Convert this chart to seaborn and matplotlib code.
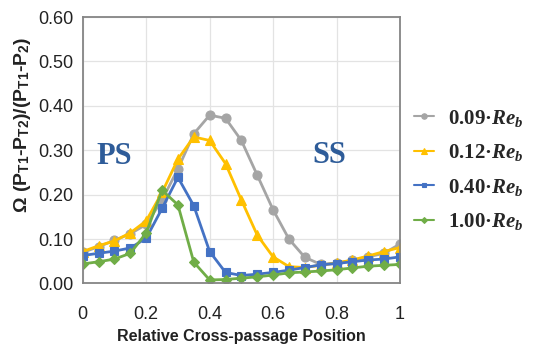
import matplotlib
matplotlib.use("Agg")
import matplotlib.pyplot as plt
import seaborn as sns
import pandas as pd

# Relative cross-passage position (pressure side -> suction side)
position = [0.00, 0.05, 0.10, 0.15, 0.20, 0.25, 0.30, 0.35, 0.40, 0.45, 0.50,
            0.55, 0.60, 0.65, 0.70, 0.75, 0.80, 0.85, 0.90, 0.95, 1.00]

re_009 = [0.070, 0.083, 0.097, 0.112, 0.133, 0.188, 0.258, 0.337, 0.379, 0.372, 0.322,
          0.244, 0.166, 0.100, 0.059, 0.043, 0.046, 0.052, 0.060, 0.068, 0.089]
re_012 = [0.072, 0.085, 0.096, 0.114, 0.141, 0.205, 0.280, 0.330, 0.322, 0.270, 0.188,
          0.109, 0.060, 0.038, 0.036, 0.041, 0.046, 0.053, 0.062, 0.072, 0.081]
re_040 = [0.063, 0.068, 0.073, 0.080, 0.102, 0.169, 0.239, 0.175, 0.072, 0.025, 0.018,
          0.021, 0.025, 0.030, 0.036, 0.042, 0.045, 0.049, 0.053, 0.055, 0.060]
re_100 = [0.044, 0.049, 0.055, 0.068, 0.114, 0.210, 0.177, 0.048, 0.008, 0.009, 0.012,
          0.015, 0.019, 0.024, 0.026, 0.028, 0.031, 0.035, 0.039, 0.041, 0.043]

series_labels = ["0.09·$Re_b$", "0.12·$Re_b$", "0.40·$Re_b$", "1.00·$Re_b$"]
series_values = [re_009, re_012, re_040, re_100]
colors = ["#A5A5A5", "#FFC000", "#4472C4", "#70AD47"]
markers = ["o", "^", "s", "D"]
marker_sizes = [6.5, 6.5, 6, 5]

xticks = [0, 0.2, 0.4, 0.6, 0.8, 1]
xtick_labels = ["0", "0.2", "0.4", "0.6", "0.8", "1"]
yticks = [0.0, 0.1, 0.2, 0.3, 0.4, 0.5, 0.6]
ytick_labels = ["0.00", "0.10", "0.20", "0.30", "0.40", "0.50", "0.60"]

sns.set_theme(style="white")
plt.rcParams["font.family"] = ["Liberation Sans", "DejaVu Sans"]
plt.rcParams["mathtext.fontset"] = "custom"
plt.rcParams["mathtext.it"] = "Liberation Serif:bold:italic"
plt.rcParams["mathtext.rm"] = "Liberation Serif:bold"
plt.rcParams["mathtext.bf"] = "Liberation Serif:bold"
plt.rcParams["mathtext.sf"] = "Liberation Sans:bold"

frames = []
for label, vals in zip(series_labels, series_values):
    frames.append(pd.DataFrame({"pos": position, "omega": vals, "case": label}))
df = pd.concat(frames, ignore_index=True)

fig = plt.figure(figsize=(5.34, 3.47), dpi=100)
ax = fig.add_axes([0.155, 0.183, 0.594, 0.768])

for label, color, mk, ms in zip(series_labels, colors, markers, marker_sizes):
    sub = df[df["case"] == label]
    sns.lineplot(data=sub, x="pos", y="omega", ax=ax, color=color, marker=mk,
                 markersize=ms, markeredgecolor=color, markeredgewidth=0.8,
                 linewidth=2, label=label, sort=False)

ax.set_xlim(0, 1)
ax.set_ylim(0, 0.6)
ax.set_xticks(xticks)
ax.set_xticklabels(xtick_labels)
ax.set_yticks(yticks)
ax.set_yticklabels(ytick_labels)
ax.tick_params(axis="both", length=0, labelsize=13, colors="#222222")
ax.tick_params(axis="x", pad=16)
ax.tick_params(axis="y", pad=7)
ax.grid(True, color="#E3E3E3", linewidth=0.9)
for side in ax.spines.values():
    side.set_visible(True)
    side.set_color("#858585")
    side.set_linewidth(1.3)

ax.set_xlabel("Relative Cross-passage Position", fontsize=11.5, fontweight="bold",
              color="#222222")
ax.xaxis.set_label_coords(0.5, -0.17)
ax.set_ylabel(r"Ω (P$_\mathsf{T1}$-P$_\mathsf{T2}$)/(P$_\mathsf{T1}$-P$_\mathsf{2}$)",
              fontsize=14, fontweight="bold", color="#222222")
ax.yaxis.set_label_coords(-0.157, 0.595)

ax.text(0.10, 0.287, "PS", fontsize=22, fontweight="bold", color="#2E5C99",
        family="Liberation Serif", ha="center", va="center")
ax.text(0.778, 0.289, "SS", fontsize=22, fontweight="bold", color="#2E5C99",
        family="Liberation Serif", ha="center", va="center")

leg = ax.legend(loc="center left", bbox_to_anchor=(0.985, 0.426), frameon=False,
                handlelength=0.96, handletextpad=0.67, labelspacing=0.65,
                borderpad=0.4,
                prop={"family": "Liberation Serif", "weight": "bold", "size": 15},
                markerscale=0.6)
for line in leg.get_lines():
    line.set_linewidth(1.5)

fig.savefig("out.png", dpi=100)
